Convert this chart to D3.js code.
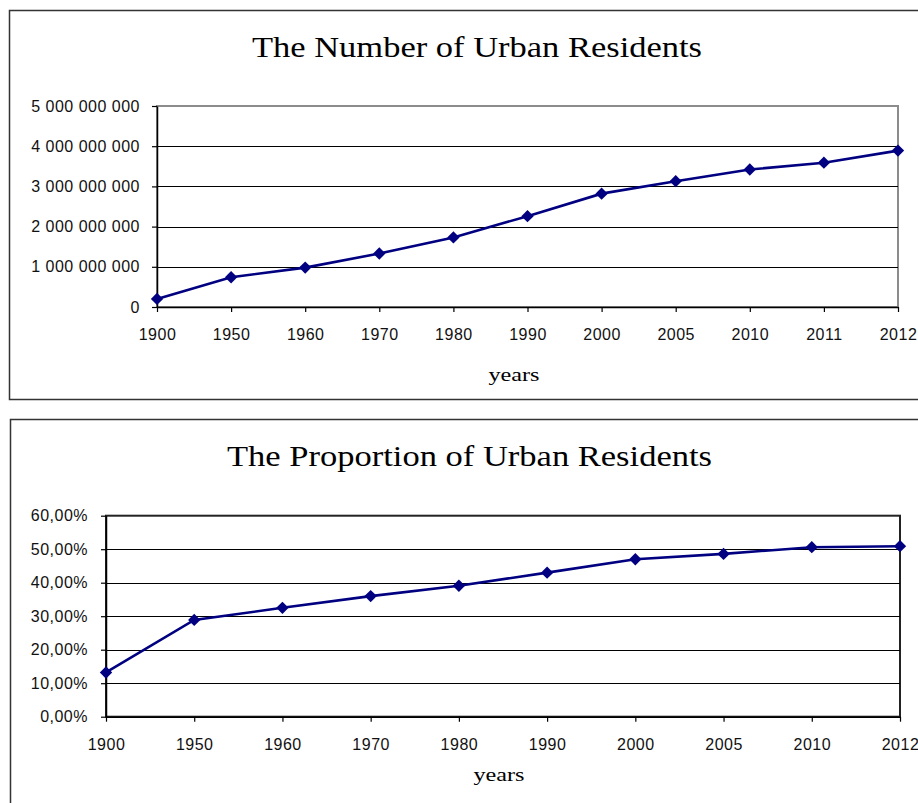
<!DOCTYPE html>
<html>
<head>
	<meta charset="utf-8">
	<title>Urban Residents</title>
	<script src="https://d3js.org/d3.v7.min.js"></script>
	<style>
		body{ margin:0; background:#fff; }
		.tick text{ font-family:"Liberation Sans", Arial, sans-serif; font-size:16px; letter-spacing:0.5px; fill:#111; }
		.title, .xlabel{ font-family:"Liberation Serif", "Times New Roman", serif; fill:#000; }
	</style>
</head>
<body>
	<svg width="918" height="803"></svg>
<script>
	// top chart data
	var years1 = ['1900','1950','1960','1970','1980','1990','2000','2005','2010','2011','2012'];
	var residents = [0.2e9, 0.74e9, 0.98e9, 1.33e9, 1.73e9, 2.26e9, 2.82e9, 3.13e9, 3.42e9, 3.59e9, 3.89e9];
	var ticks1 = [0, 1e9, 2e9, 3e9, 4e9, 5e9];

	// bottom chart data
	var years2 = ['1900','1950','1960','1970','1980','1990','2000','2005','2010','2012'];
	var share = [13.2, 28.9, 32.5, 36.0, 39.1, 43.0, 47.0, 48.6, 50.6, 50.9];
	var ticks2 = [0, 10, 20, 30, 40, 50, 60];

	var loc = d3.formatLocale({decimal: ',', thousands: ' ', grouping: [3], currency: ['', '']});
	var fmtBig = loc.format(',');
	var fmtPct = function(d){ return loc.format('.2f')(d) + '%'; };

	var svg = d3.select('svg');

	// outer boxes
	svg.append('rect').attr('x', 9.5).attr('y', 10.5).attr('width', 930).attr('height', 389)
		.attr('fill', 'none').attr('stroke', '#333').attr('stroke-width', 1.5);
	svg.append('rect').attr('x', 10.5).attr('y', 419.5).attr('width', 930).attr('height', 420)
		.attr('fill', 'none').attr('stroke', '#333').attr('stroke-width', 1.5);

	function drawChart(o){
		var x = d3.scalePoint().domain(o.cats).range([o.x0, o.x1]).padding(0);
		var y = d3.scaleLinear().domain([0, o.ticks[o.ticks.length - 1]]).range([o.y0, o.y1]);
		var g = svg.append('g');

		// plot frame
		g.append('rect')
			.attr('x', o.x0).attr('y', y(o.ticks[o.ticks.length - 1]))
			.attr('width', o.x1 - o.x0).attr('height', o.y0 - o.y1)
			.attr('fill', 'none').attr('stroke', o.frame).attr('stroke-width', 2);

		// grid
		g.selectAll('.grid').data(o.ticks.slice(1, o.ticks.length - 1)).enter()
			.append('line').attr('class', 'grid')
			.attr('x1', o.x0).attr('x2', o.x1)
			.attr('y1', function(d){ return Math.round(y(d)) + 0.5; })
			.attr('y2', function(d){ return Math.round(y(d)) + 0.5; })
			.attr('stroke', '#000').attr('stroke-width', 1.2);

		var ya = g.append('g').attr('transform', 'translate(' + o.x0 + ',0)')
			.call(d3.axisLeft(y).tickValues(o.ticks).tickFormat(o.fmt).tickSize(5).tickSizeOuter(0).tickPadding(o.pad));
		var xa = g.append('g').attr('transform', 'translate(0,' + o.y0 + ')')
			.call(d3.axisBottom(x).tickSize(5).tickSizeOuter(0).tickPadding(17));
		[ya, xa].forEach(function(a){
			a.select('.domain').attr('stroke', '#000').attr('stroke-width', 1.5);
			a.selectAll('.tick line').attr('stroke', '#000').attr('stroke-width', 1.2);
		});

		var line = d3.line()
			.x(function(d, i){ return x(o.cats[i]); })
			.y(function(d){ return y(d); });
		g.append('path').datum(o.vals).attr('d', line)
			.attr('fill', 'none').attr('stroke', '#000080').attr('stroke-width', 2.6);

		g.selectAll('.pt').data(o.vals).enter().append('path').attr('class', 'pt')
			.attr('d', d3.symbol().type(d3.symbolSquare).size(76))
			.attr('transform', function(d, i){ return 'translate(' + x(o.cats[i]) + ',' + y(d) + ') rotate(45)'; })
			.attr('fill', '#000080');

		g.append('text').attr('class', 'title')
			.attr('x', o.tx).attr('y', o.ty).attr('text-anchor', 'middle')
			.attr('font-size', o.tsize).attr('textLength', o.tlen).attr('lengthAdjust', 'spacingAndGlyphs')
			.text(o.title);
		g.append('text').attr('class', 'xlabel')
			.attr('x', o.lx).attr('y', o.ly).attr('text-anchor', 'middle')
			.attr('font-size', 18).attr('textLength', 51).attr('lengthAdjust', 'spacingAndGlyphs')
			.text('years');
	}

	drawChart({
		cats: years1, vals: residents, ticks: ticks1, fmt: fmtBig,
		x0: 157, x1: 898, y0: 307, y1: 106, pad: 12, frame: '#8c8c8c',
		title: 'The Number of  Urban Residents', tx: 477, ty: 57, tsize: 29, tlen: 450,
		lx: 514, ly: 381
	});
	drawChart({
		cats: years2, vals: share, ticks: ticks2, fmt: fmtPct,
		x0: 106, x1: 900, y0: 716.7, y1: 515.7, pad: 13, frame: '#222',
		title: 'The Proportion of  Urban Residents', tx: 469.5, ty: 465.5, tsize: 30, tlen: 485,
		lx: 499, ly: 781
	});
</script>
</body>
</html>
